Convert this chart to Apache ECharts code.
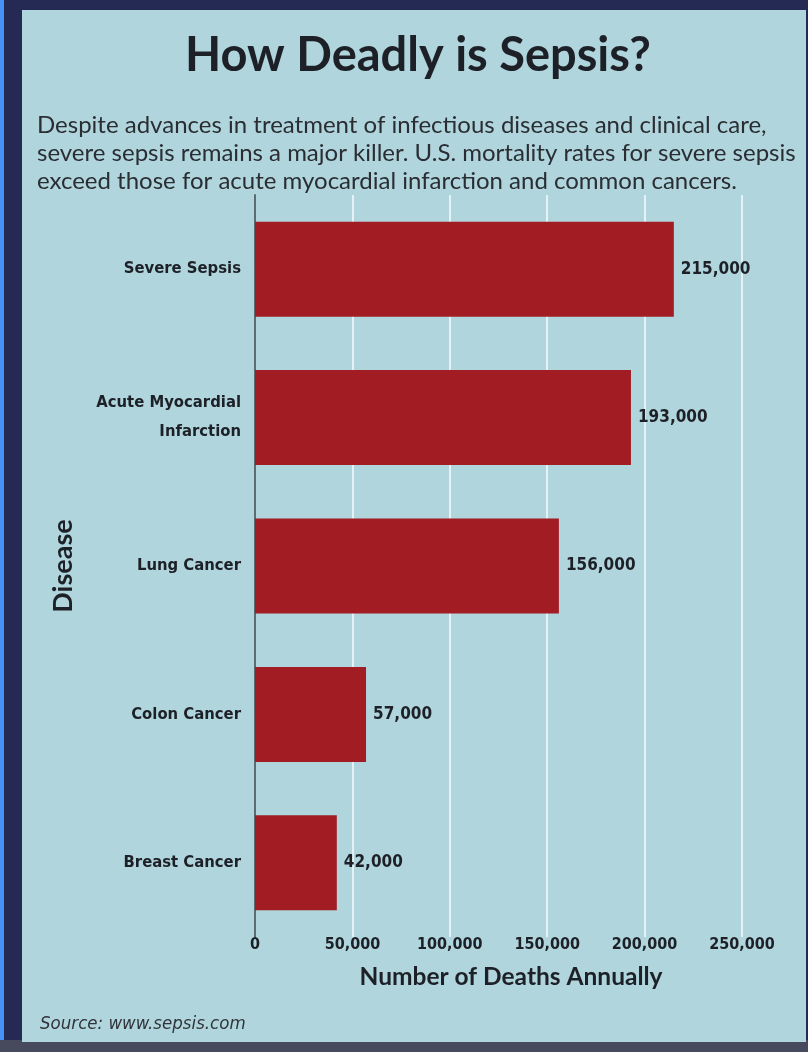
<!DOCTYPE html>
<html>
<head>
<meta charset="utf-8">
<script src="https://cdn.jsdelivr.net/npm/echarts@6/dist/echarts.min.js"></script>
<style>
  html, body { margin: 0; padding: 0; background: #252a55; }
  #chart { width: 808px; height: 1052px; }
</style>
</head>
<body>
<div id="chart"></div>
<script>
// Annual US deaths by disease
const diseases = ['Severe Sepsis', 'Acute Myocardial\nInfarction', 'Lung Cancer', 'Colon Cancer', 'Breast Cancer'];
const deaths = [215000, 193000, 156000, 57000, 42000];
const xTicks = [0, 50000, 100000, 150000, 200000, 250000];

const titleText = 'How Deadly is Sepsis?';
const introLines = [
  'Despite advances in treatment of infectious diseases and clinical care,',
  'severe sepsis remains a major killer. U.S. mortality rates for severe sepsis',
  'exceed those for acute myocardial infarction and common cancers.'
];
const sourceText = 'Source: www.sepsis.com';

const condensed = "'DejaVu Sans Condensed', 'Liberation Sans Narrow', sans-serif";
const ink = '#1d2127';

const fmt = v => v.toLocaleString('en-US');

const chart = echarts.init(document.getElementById('chart'), null, { renderer: 'canvas' });

chart.setOption({
  backgroundColor: '#252a55',
  animation: false,
  graphic: [
    // left blue edge
    { type: 'rect', shape: { x: 0, y: 0, width: 4, height: 1040 }, style: { fill: '#4591f7' }, z: -10 },
    // bottom band
    { type: 'rect', shape: { x: 0, y: 1040, width: 808, height: 12 }, style: { fill: '#474a5d' }, z: -10 },
    // light panel
    { type: 'rect', shape: { x: 22, y: 10, width: 784, height: 1032 }, style: { fill: '#b0d5dd' }, z: -9 }
  ],
  title: [
    {
      text: titleText,
      left: 180,
      top: 27,
      textStyle: { fontFamily: 'Lato', fontSize: 47, fontWeight: 'bold', color: ink }
    },
    {
      text: introLines.join('\n'),
      left: 32,
      top: 106,
      textStyle: { fontFamily: 'Lato', fontSize: 24, fontWeight: 'normal', color: '#2a2e33', lineHeight: 28 }
    },
    {
      text: sourceText,
      left: 35,
      top: 1010,
      textStyle: { fontFamily: condensed, fontSize: 18.5, fontStyle: 'italic', fontWeight: 'normal', color: '#30343a' }
    }
  ],
  grid: { left: 255, right: 66, top: 195, height: 742, containLabel: false },
  xAxis: {
    type: 'value',
    min: xTicks[0],
    max: xTicks[xTicks.length - 1],
    interval: xTicks[1] - xTicks[0],
    axisLine: { show: false },
    axisTick: { show: false },
    splitLine: { show: true, lineStyle: { color: '#e4f2f5', width: 2 } },
    axisLabel: {
      formatter: v => fmt(v),
      margin: 0,
      fontFamily: condensed,
      fontSize: 16,
      fontWeight: 'bold',
      color: ink
    },
    name: 'Number of Deaths Annually',
    nameLocation: 'middle',
    nameGap: 28,
    nameTextStyle: { fontFamily: 'Lato', fontSize: 24.5, fontWeight: 'bold', color: ink, padding: [0, 0, 0, 25] }
  },
  yAxis: {
    type: 'category',
    data: diseases,
    inverse: true,
    axisLine: { show: true, lineStyle: { color: '#5d6b72', width: 2 } },
    axisTick: { show: false },
    splitLine: { show: false },
    axisLabel: {
      margin: 14,
      fontFamily: condensed,
      fontSize: 16.5,
      fontWeight: 'bold',
      color: ink,
      lineHeight: 29,
      align: 'right'
    },
    name: 'Disease',
    nameLocation: 'middle',
    nameRotate: 90,
    nameGap: 178,
    nameTextStyle: { fontFamily: 'Lato', fontSize: 27, fontWeight: 'bold', color: ink }
  },
  series: [{
    type: 'bar',
    data: deaths,
    barWidth: 95,
    itemStyle: { color: '#a11c23' },
    label: {
      show: true,
      position: 'right',
      distance: 7,
      formatter: p => fmt(p.value),
      fontFamily: condensed,
      fontSize: 17,
      fontWeight: 'bold',
      color: ink
    }
  }]
});
</script>
</body>
</html>
